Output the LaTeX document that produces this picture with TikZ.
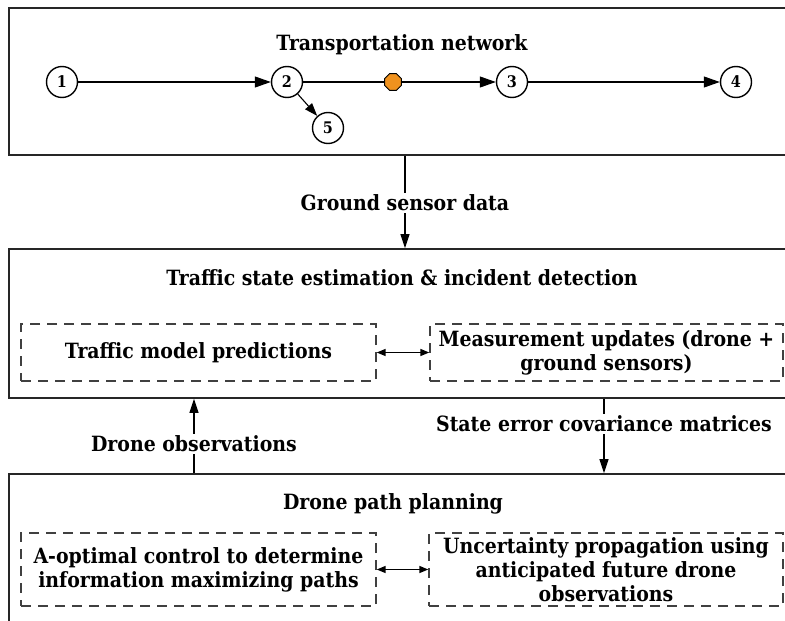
\documentclass[tikz,border=0pt]{standalone}
\usepackage{fontspec}
\setmainfont{DejaVu Serif Condensed}
\usetikzlibrary{arrows.meta,shapes.geometric}
\begin{document}
\begin{tikzpicture}[x=1pt,y=-1pt,
  font=\bfseries\fontsize{21}{24}\selectfont,
  outerbox/.style={draw=black!85,line width=1.8pt,rectangle,inner sep=0pt},
  dbox/.style={draw=black!75,line width=1.4pt,dash pattern=on 10pt off 7pt,rectangle,inner sep=0pt,align=center},
  netnode/.style={circle,draw,line width=1.4pt,minimum size=31pt,inner sep=0pt,font=\bfseries\fontsize{16}{18}\selectfont},
  edge/.style={line width=1.1pt,-{Triangle[length=16pt,width=11pt]}},
  flow/.style={line width=1.1pt,-{Triangle[length=14pt,width=9pt]}},
  twoway/.style={line width=1.5pt,{Triangle[length=9pt,width=7pt]}-{Triangle[length=9pt,width=7pt]}},
  lbl/.style={inner sep=2pt}]
\useasboundingbox (0,0) rectangle (785,621);
% outer boxes
\node[outerbox,minimum width=791pt,minimum height=147pt] (net) at (404.5,81.5) {};
\node[outerbox,minimum width=791pt,minimum height=149pt] (est) at (404.5,323.5) {};
\node[outerbox,minimum width=791pt,minimum height=180pt] (plan) at (404.5,564) {};
% titles
\node (tnet) at (402,45) {Transportation network};
\node (test) at (402,278) {Traffic state estimation \& incident detection};
\node (tplan) at (393,504) {Drone path planning};
% network
\node[netnode] (n1) at (62,82) {1};
\node[netnode] (n2) at (287,82) {2};
\node[netnode] (n3) at (512,82) {3};
\node[netnode] (n4) at (736,82) {4};
\node[netnode] (n5) at (328,128) {5};
\node[regular polygon,regular polygon sides=8,draw,line width=1pt,fill={rgb,255:red,240;green,146;blue,30},minimum size=18pt,inner sep=0pt] (inc) at (393,82) {};
\draw[edge] (n1) -- (n2);
\draw[line width=1.1pt] (n2) -- (inc);
\draw[edge] (inc) -- (n3);
\draw[edge] (n3) -- (n4);
\draw[line width=1.1pt,-{Triangle[length=13pt,width=9pt]}] (n2) -- (n5);
% dashed boxes
\node[dbox,minimum width=355pt,minimum height=57pt] (tmp) at (198.5,352.5) {Traffic model predictions};
\node[dbox,minimum width=353pt,minimum height=57pt] (mu) at (606.5,352.5) {Measurement updates (drone +\\ground sensors)};
\node[dbox,minimum width=355pt,minimum height=73pt] (aopt) at (198.5,569.5) {A-optimal control to determine\\information maximizing paths};
\node[dbox,minimum width=354pt,minimum height=73pt] (unc) at (606,569.5) {Uncertainty propagation using\\anticipated future drone\\observations};
\draw[twoway] (tmp.east) -- (mu.west);
\draw[twoway] (aopt.east) -- (unc.west);
% connectors
\node[lbl] (gsd) at (405,203) {Ground sensor data};
\draw[line width=1.1pt] (gsd.north) -- (gsd.north |- net.south);
\draw[flow] (gsd.south) -- (gsd.south |- est.north);
\node[lbl] (dobs) at (194,444) {Drone observations};
\draw[line width=1.1pt] (dobs.south) -- (dobs.south |- plan.north);
\draw[flow] (dobs.north) -- (dobs.north |- est.south);
\node[lbl] (secm) at (604,424) {State error covariance matrices};
\draw[line width=1.1pt] (secm.north) -- (secm.north |- est.south);
\draw[flow] (secm.south) -- (secm.south |- plan.north);
\end{tikzpicture}
\end{document}
